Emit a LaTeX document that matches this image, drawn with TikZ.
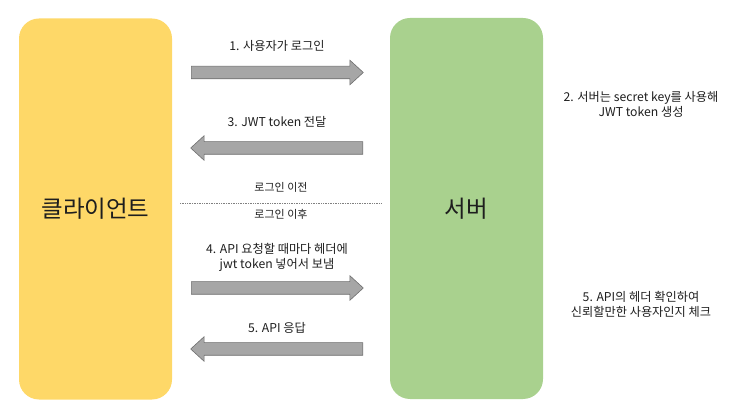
\documentclass[tikz,border=0pt]{standalone}
\usepackage{fontspec}
\setmainfont{Noto Sans CJK KR}
\usepackage{xcolor}
\usepackage{tikz}
\usetikzlibrary{shapes.arrows,positioning}
\definecolor{clientyellow}{RGB}{254,216,104}
\definecolor{servergreen}{RGB}{169,209,142}
\definecolor{arrowfill}{RGB}{166,166,166}
\definecolor{arrowedge}{RGB}{110,110,110}
\definecolor{textgray}{RGB}{30,30,30}

\begin{document}
\begin{tikzpicture}[
        x=1pt, y=-1pt,
        party/.style={rounded corners=20pt, minimum width=153pt, minimum height=381pt, inner sep=0pt, font=\fontsize{23.5}{26}\selectfont, text=textgray},
        blockarrow/.style={single arrow, draw=arrowedge, fill=arrowfill, line width=0.6pt, minimum height=172pt, inner xsep=0pt, inner ysep=6pt, single arrow head extend=6pt, single arrow tip angle=85, single arrow head indent=0pt, anchor=tail},
        leftarrow/.style={blockarrow, shape border rotate=180},
        msg/.style={align=center, font=\fontsize{12.2}{15}\selectfont, text=textgray, inner sep=0pt},
        phase/.style={font=\fontsize{11}{13}\selectfont, text=textgray, inner sep=0pt}
    ]
    \useasboundingbox (0,0) rectangle (744,411);

    \node[party, fill=clientyellow] (client) at (95.5,209) {클라이언트};
    \node[party, fill=servergreen] (server) at (466.5,208.5) {서버};

    % block arrows between client and server
    \node[blockarrow] (login) at (191,72.5) {};
    \node[leftarrow] (token) at (363,148) {};
    \node[blockarrow] (request) at (191,288) {};
    \node[leftarrow] (response) at (363,349) {};

    \node[msg] (loginlbl) at (277,46) {1. 사용자가 로그인};
    \node[msg] (tokenlbl) at (277,122) {3. JWT token 전달};
    \node[msg] (requestlbl) at (277,257.5) {4. API 요청할 때마다 헤더에\\jwt token 넣어서 보냄};
    \node[msg] (responselbl) at (277,328) {5. API 응답};

    % before / after login
    \coordinate (splitl) at (180,203.5);
    \coordinate (splitr) at (382,203.5);
    \draw[gray, line width=0.6pt, dash pattern=on 1pt off 0.7pt] (splitl) -- (splitr);
    \node[phase] (before) at (281,187) {로그인 이전};
    \node[phase] (after) at (281,214) {로그인 이후};

    % server side notes
    \node[msg] (sign) at (641,104.5) {2. 서버는 secret key를 사용해\\JWT token 생성};
    \node[msg] (check) at (641,304.5) {5. API의 헤더 확인하여\\신뢰할만한 사용자인지 체크};
\end{tikzpicture}
\end{document}
